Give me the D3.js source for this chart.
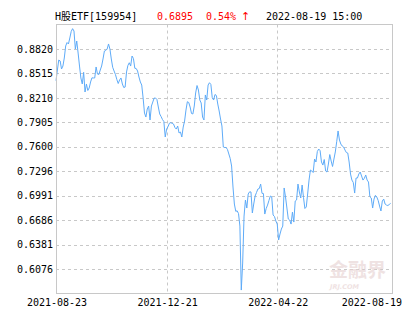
<!DOCTYPE html>
<html>
<head>
<meta charset="utf-8">
<script src="https://cdn.jsdelivr.net/npm/d3@7"></script>
<style>
  body { margin: 0; background: #fff; }
  svg { display: block; }
  text { font-family: "DejaVu Sans Mono", "Noto Sans CJK SC", monospace; font-size: 10px; }
</style>
</head>
<body>
<svg id="chart" width="415" height="330"></svg>
<script>
// header
const fundName = "H股ETF[159954]";
const lastPrice = "0.6895";
const changePct = "0.54%";
const changeArrow = "↑";
const quoteTime = "2022-08-19 15:00";

// x axis labels and the trading-day index they sit at
const xLabels = ["2021-08-23", "2021-12-21", "2022-04-22", "2022-08-19"];
const xLabelIdx = [0, 80, 160, 242];

// y axis
const yTicks = [0.6076, 0.6381, 0.6686, 0.6991, 0.7296, 0.7600, 0.7905, 0.8210, 0.8515, 0.8820];
const yMin = 0.5771, yMax = 0.9126;

// daily net value
const prices = [
  0.8425, 0.8558, 0.8683, 0.8671, 0.8571, 0.8608, 0.8708, 0.8858, 0.8901, 0.8883,
  0.8958, 0.9039, 0.9074, 0.9045, 0.8820, 0.8920, 0.8770, 0.8608, 0.8459, 0.8384,
  0.8530, 0.8284, 0.8384, 0.8303, 0.8334, 0.8409, 0.8461, 0.8459, 0.8459, 0.8596,
  0.8508, 0.8502, 0.8558, 0.8608, 0.8696, 0.8795, 0.8802, 0.8820, 0.8883, 0.8820,
  0.8696, 0.8592, 0.8546, 0.8502, 0.8440, 0.8390, 0.8434, 0.8459, 0.8384, 0.8340,
  0.8346, 0.8534, 0.8615, 0.8649, 0.8608, 0.8733, 0.8702, 0.8580, 0.8577, 0.8546,
  0.8471, 0.8409, 0.8371, 0.8209, 0.8022, 0.7972, 0.8072, 0.8109, 0.7935, 0.8109,
  0.8159, 0.8209, 0.8209, 0.8190, 0.8097, 0.8010, 0.7978, 0.7941, 0.7916, 0.7723,
  0.7822, 0.7851, 0.7894, 0.7901, 0.7894, 0.7885, 0.7841, 0.7822, 0.7860, 0.7773,
  0.7785, 0.7723, 0.7847, 0.7922, 0.8059, 0.8163, 0.8153, 0.8097, 0.8016, 0.8010,
  0.8109, 0.8272, 0.8365, 0.8309, 0.8184, 0.8147, 0.7972, 0.7935, 0.8247, 0.8184,
  0.8371, 0.8400, 0.8378, 0.8215, 0.8184, 0.8253, 0.8240, 0.8134, 0.8047, 0.7947,
  0.7860, 0.7598, 0.7592, 0.7592, 0.7567, 0.7511, 0.7454, 0.7361, 0.7099, 0.6887,
  0.6796, 0.6802, 0.6768, 0.6612, 0.5814, 0.6151, 0.6737, 0.6937, 0.6837, 0.7012,
  0.7039, 0.7037, 0.6775, 0.6887, 0.6987, 0.7030, 0.7074, 0.7080, 0.7136, 0.7020,
  0.7018, 0.6762, 0.6831, 0.6874, 0.6931, 0.6987, 0.6978, 0.6750, 0.6731, 0.6675,
  0.6637, 0.6438, 0.6513, 0.6575, 0.6612, 0.7087, 0.6974, 0.6837, 0.6700, 0.6687,
  0.6637, 0.6787, 0.6662, 0.6924, 0.6937, 0.7136, 0.7037, 0.6962, 0.7124, 0.6968,
  0.6831, 0.6850, 0.7012, 0.7186, 0.7311, 0.7299, 0.7280, 0.7448, 0.7411, 0.7542,
  0.7573, 0.7552, 0.7411, 0.7373, 0.7442, 0.7299, 0.7286, 0.7386, 0.7504, 0.7423,
  0.7355, 0.7448, 0.7536, 0.7664, 0.7798, 0.7685, 0.7635, 0.7610, 0.7598, 0.7560,
  0.7529, 0.7523, 0.7411, 0.7261, 0.7186, 0.7155, 0.7024, 0.7211, 0.7211, 0.7261,
  0.7286, 0.7236, 0.7186, 0.7208, 0.7249, 0.7186, 0.7161, 0.6978, 0.6962, 0.6837,
  0.6949, 0.6995, 0.6974, 0.6931, 0.6862, 0.6800, 0.6924, 0.6949, 0.6887, 0.6874,
  0.6868, 0.6881, 0.6895
];

const svg = d3.select("#chart");
const plotL = 56, plotR = 392, plotT = 24.5, plotB = 293.5;

const x = d3.scaleLinear().domain([0, prices.length]).range([plotL, plotR]);
const y = d3.scaleLinear().domain([yMin, yMax]).range([plotB, plotT]);
const crisp = v => Math.round(v) + 0.5;

// header line
const head = svg.append("g").attr("transform", "translate(0,20)");
head.append("text").attr("x", 55).text(fundName).attr("fill", "#000");
head.append("text").attr("x", 157).text(lastPrice).attr("fill", "#ff0000");
head.append("text").attr("x", 206).text(changePct).attr("fill", "#ff0000");
head.append("text").attr("x", 241).text(changeArrow).attr("fill", "#ff0000")
  .style("font-family", "'DejaVu Sans', sans-serif").style("font-size", "11px");
head.append("text").attr("x", 266).text(quoteTime).attr("fill", "#000");

// horizontal grid + y labels
svg.append("g")
  .selectAll("line")
  .data(yTicks)
  .join("line")
  .attr("x1", plotL).attr("x2", plotR)
  .attr("y1", d => crisp(y(d))).attr("y2", d => crisp(y(d)))
  .attr("stroke", "#c8c8c8")
  .attr("stroke-dasharray", "3,3");

svg.append("g")
  .selectAll("text")
  .data(yTicks)
  .join("text")
  .attr("x", 53)
  .attr("y", d => y(d))
  .attr("dy", "0.36em")
  .attr("text-anchor", "end")
  .attr("fill", "#000")
  .text(d => d.toFixed(4));

// vertical grid at the inner date labels
svg.append("g")
  .selectAll("line")
  .data(xLabelIdx.slice(1, -1))
  .join("line")
  .attr("x1", d => crisp(x(d))).attr("x2", d => crisp(x(d)))
  .attr("y1", plotT).attr("y2", plotB)
  .attr("stroke", "#c8c8c8")
  .attr("stroke-dasharray", "3,3");

// watermark
const wm = svg.append("g").attr("opacity", 0.6);
wm.append("text")
  .attr("x", 329).attr("y", 277)
  .style("font-family", "'Noto Sans CJK SC', sans-serif")
  .style("font-size", "19px")
  .style("font-weight", "bold")
  .attr("fill", "#e6d0d0")
  .text("金融界");
wm.append("text")
  .attr("x", 330).attr("y", 289)
  .style("font-family", "'DejaVu Sans', sans-serif")
  .style("font-size", "6.5px")
  .style("font-style", "italic")
  .style("font-weight", "bold")
  .attr("fill", "#e6d0d0")
  .text("JRJ.COM");

// price line
const line = d3.line()
  .x((d, i) => x(i))
  .y(d => y(d));

svg.append("path")
  .datum(prices)
  .attr("d", line)
  .attr("fill", "none")
  .attr("stroke", "#5eabf8")
  .attr("stroke-width", 1);

// frame
svg.append("rect")
  .attr("x", plotL + 0.5).attr("y", plotT)
  .attr("width", plotR - plotL).attr("height", plotB - plotT)
  .attr("fill", "none")
  .attr("stroke", "#c8c8c8");

// x labels
svg.append("g")
  .selectAll("text")
  .data(xLabels)
  .join("text")
  .attr("x", (d, i) => i === xLabels.length - 1 ? plotR + 10 : x(xLabelIdx[i]) + 1)
  .attr("y", 306)
  .attr("text-anchor", (d, i) => i === xLabels.length - 1 ? "end" : "middle")
  .attr("fill", "#000")
  .text(d => d);
</script>
</body>
</html>
